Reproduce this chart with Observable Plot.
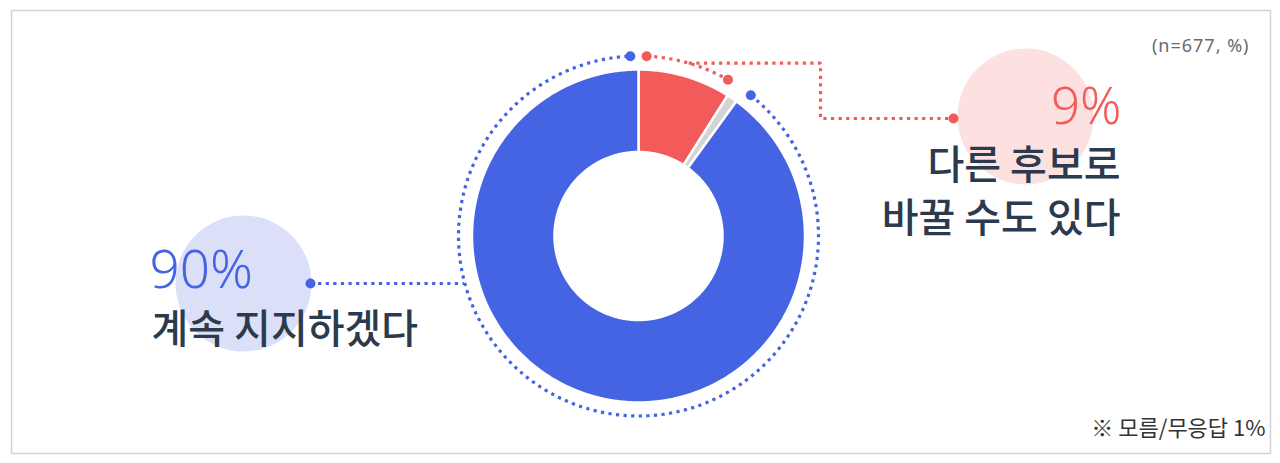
<!DOCTYPE html>
<html>
<head>
<meta charset="utf-8">
<script src="https://cdn.jsdelivr.net/npm/d3@7"></script>
<script src="https://cdn.jsdelivr.net/npm/@observablehq/plot@0.6"></script>
<style>
  html, body { margin: 0; padding: 0; background: #fff; }
  svg { display: block; }
</style>
</head>
<body>
<div id="chart"></div>
<script>
// ---- data ----
const categories = ["다른 후보로 바꿀 수도 있다", "모름/무응답", "계속 지지하겠다"];
const shares = [9, 1, 90];
const labelLines = [["다른 후보로", "바꿀 수도 있다"], null, ["계속 지지하겠다"]];
const sampleNote = "(n=677, %)";
const footNote = "※ 모름/무응답 1%";

// ---- layout / style (not data) ----
const W = 1280, H = 463;
const cx = 638, cy = 235.5;
const R_OUT = 166.5, R_IN = 84, R_RING = 180;
const colors = ["#f35b5b", "#d4d4d4", "#4564e4"];
const lightColors = ["#fde1e1", null, "#dbe0f8"];
const textDark = "#2b3a4c";
const DASH = {strokeWidth: 3.2, strokeDasharray: "3.2 4.4", strokeLinecap: "butt"};

const total = d3.sum(shares);
let acc = 0;
const slices = categories.map((c, i) => {
  const a0 = acc / total * 2 * Math.PI;
  acc += shares[i];
  const a1 = acc / total * 2 * Math.PI;
  return {cat: c, value: shares[i], a0, a1, i};
});

const pt = (a, r) => ({x: cx + r * Math.sin(a), y: cy - r * Math.cos(a)});
function arcPts(a0, a1, r) {
  const n = Math.max(2, Math.ceil(Math.abs(a1 - a0) / (Math.PI / 360)));
  return d3.range(n + 1).map(k => pt(a0 + (a1 - a0) * k / n, r));
}
function slicePoly(s) {
  const outer = arcPts(s.a0, s.a1, R_OUT);
  const inner = arcPts(s.a1, s.a0, R_IN);
  const pts = outer.concat(inner);
  pts.push(pts[0]);
  return pts;
}

const pad = 2.6 * Math.PI / 180;
const ringSlices = [slices[0], slices[2]];

const marks = [];
marks.push(Plot.frame({stroke: "#d2d2d2", strokeWidth: 1.5, insetLeft: 11, insetTop: 10, insetRight: 10, insetBottom: 10}));

// light background circles behind labels
const redLabelDot = {x: 953, y: 118};
const blueLabelDot = {x: 310, y: 283};
marks.push(Plot.dot([{x: redLabelDot.x + 72, y: 116}], {x: "x", y: "y", r: 68, fill: lightColors[0]}));
marks.push(Plot.dot([{x: blueLabelDot.x - 67, y: 283}], {x: "x", y: "y", r: 68, fill: lightColors[2]}));

// donut slices
slices.forEach(s => {
  marks.push(Plot.line(slicePoly(s), {x: "x", y: "y", fill: colors[s.i], stroke: "white", strokeWidth: 2.5, curve: "linear"}));
});

// dotted outer rings
ringSlices.forEach(s => {
  const pts = arcPts(s.a0 + pad, s.a1 - pad, R_RING);
  marks.push(Plot.line(pts, {x: "x", y: "y", stroke: colors[s.i], ...DASH}));
  marks.push(Plot.dot([pts[0], pts[pts.length - 1]], {x: "x", y: "y", r: 5, fill: colors[s.i]}));
});

// red connector: from ring at slice mid-angle to label
{
  const s = slices[0];
  const m = pt((s.a0 + s.a1) / 2, R_RING);
  const elbowX = 820;
  const conn = [m, {x: elbowX, y: m.y}, {x: elbowX, y: redLabelDot.y}, redLabelDot];
  marks.push(Plot.line(conn, {x: "x", y: "y", stroke: colors[0], ...DASH, strokeLinejoin: "miter"}));
  marks.push(Plot.dot([redLabelDot], {x: "x", y: "y", r: 5, fill: colors[0]}));
}
// blue connector: horizontal from label to ring
{
  const dy = blueLabelDot.y - cy;
  const ringX = cx - Math.sqrt(R_RING * R_RING - dy * dy);
  const conn = [blueLabelDot, {x: ringX - 1, y: blueLabelDot.y}];
  marks.push(Plot.line(conn, {x: "x", y: "y", stroke: colors[2], ...DASH}));
  marks.push(Plot.dot([blueLabelDot], {x: "x", y: "y", r: 5, fill: colors[2]}));
}

// labels
const numFont = "'Noto Sans', sans-serif";
const korFont = "'Noto Sans CJK KR', sans-serif";
const blueValue = `${shares[2]}%`, redValue = `${shares[0]}%`;
marks.push(Plot.text([blueValue], {x: () => 149, y: () => 287, text: d => d, textAnchor: "start", lineAnchor: "bottom", fontSize: 53, fontWeight: 300, fill: colors[2], fontFamily: numFont}));
marks.push(Plot.text([labelLines[2].join("\n")], {x: () => 151, y: () => 342, text: d => d, textAnchor: "start", lineAnchor: "bottom", fontSize: 40, fontWeight: 500, fill: textDark, fontFamily: korFont}));
marks.push(Plot.text([redValue], {x: () => 1121, y: () => 123, text: d => d, textAnchor: "end", lineAnchor: "bottom", fontSize: 51, fontWeight: 300, fill: colors[0], fontFamily: numFont}));
marks.push(Plot.text([labelLines[0].join("\n")], {x: () => 1120, y: () => 231, text: d => d, textAnchor: "end", lineAnchor: "bottom", lineHeight: 1.325, fontSize: 40, fontWeight: 500, fill: textDark, fontFamily: korFont}));

// notes
marks.push(Plot.text([sampleNote], {x: () => 1249, y: () => 51, text: d => d, textAnchor: "end", lineAnchor: "bottom", fontSize: 18, fill: "#6a6a6a", fontFamily: numFont}));
marks.push(Plot.text([footNote], {x: () => 1265, y: () => 435, text: d => d, textAnchor: "end", lineAnchor: "bottom", fontSize: 22, fill: "#333", fontFamily: korFont}));

const chart = Plot.plot({
  width: W, height: H, margin: 0,
  x: {domain: [0, W], range: [0, W], axis: null},
  y: {domain: [0, H], range: [0, H], axis: null},
  style: {background: "white"},
  marks
});
// slight tracking on the sample-size note
d3.select(chart).selectAll("text").each(function() {
  if (this.textContent === sampleNote) this.style.letterSpacing = "1px";
});
document.getElementById("chart").appendChild(chart);
</script>
</body>
</html>
